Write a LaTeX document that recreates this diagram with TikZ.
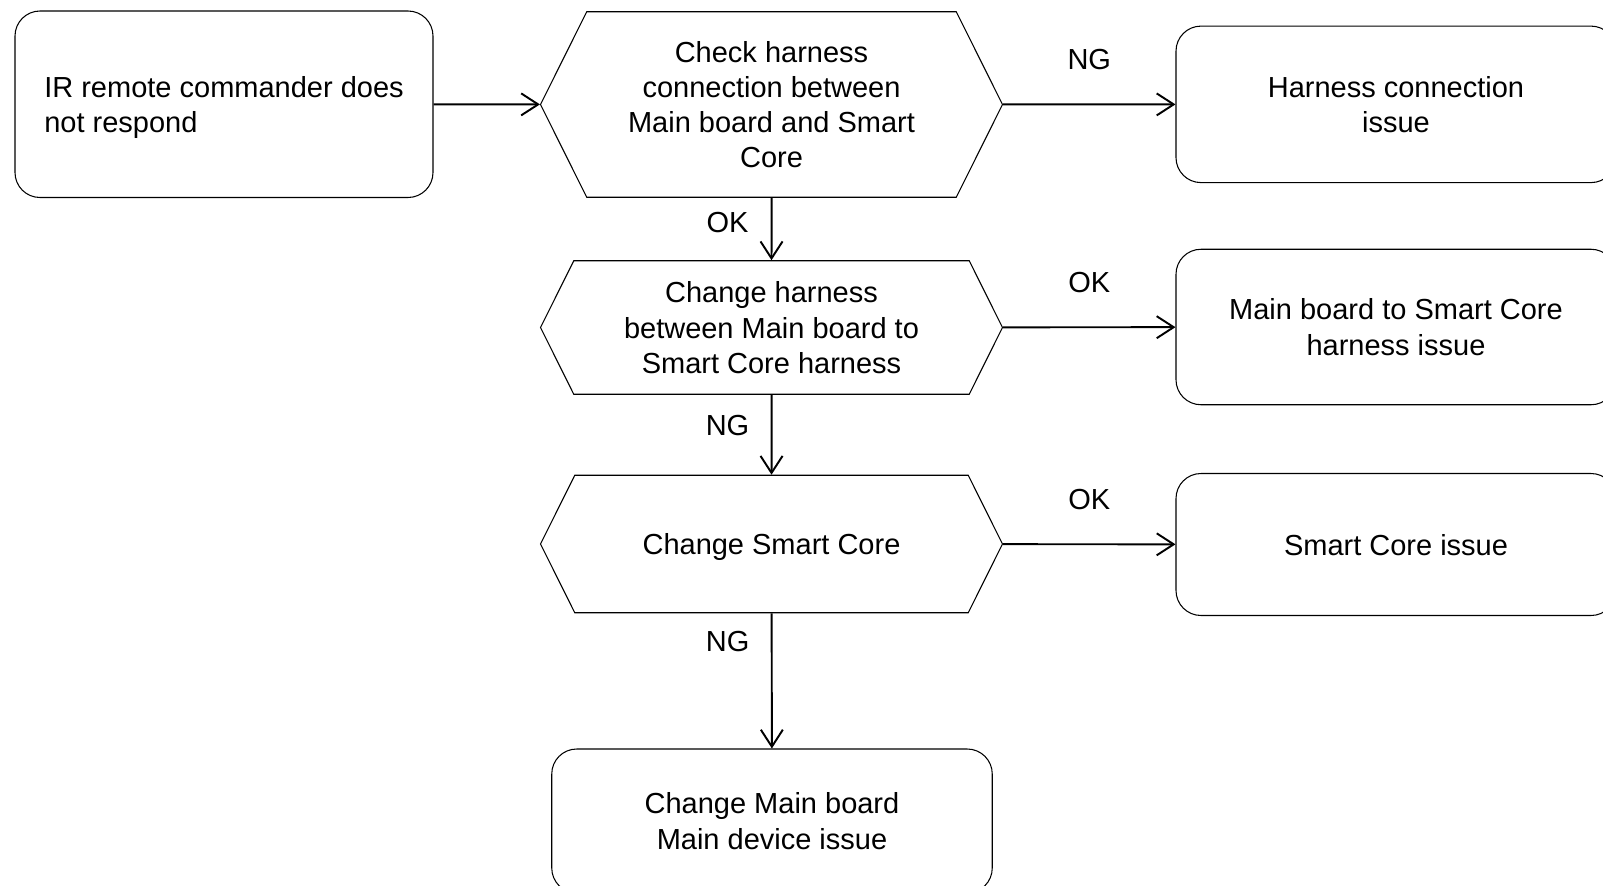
\documentclass[tikz,border=0pt]{standalone}
\usepackage{fontspec}
\setmainfont{Liberation Sans}
\usetikzlibrary{shapes.symbols, arrows.meta, positioning, backgrounds}

\begin{document}
\begin{tikzpicture}[
    every node/.style={font=\fontsize{16.5}{20}\selectfont, text=black},
    wf/.style={
        draw, rounded corners=0.5cm, line width=0.6pt,
        minimum width=8.8cm, text depth=0pt,
        align=center, inner sep=0.15cm
    },
    check/.style={
        draw, signal, signal to=east and west, signal pointer angle=127,
        minimum width=9.24cm, line width=0.6pt, text depth=0pt,
        align=center, inner sep=0.15cm
    },
    arrow/.style={-{Straight Barb[length=3.4mm, width=4.4mm]}, line width=1.1pt},
    lbl/.style={font=\fontsize{16.5}{20}\selectfont}
]

% ── CANVAS ─────────────────────────────────────────────────────
\useasboundingbox (0,0) rectangle (32.06,-17.72);
\begin{scope}[on background layer]
    \fill[white] (0,0) rectangle (32.06,-17.72);
\end{scope}

% === LEFT COLUMN ===
\node[wf, align=left, minimum width=8.36cm, minimum height=3.73cm]
    (symptom) at (4.48,-2.085)
    {IR remote commander does\\not respond};

% === CENTER COLUMN ===
\node[check, minimum height=3.71cm]
    (chkharness) at (15.43,-2.09)
    {Check harness\\connection between\\Main board and Smart\\Core};

\node[check, minimum height=2.67cm]
    (chgharness) at (15.43,-6.55)
    {Change harness\\between Main board to\\Smart Core harness};

\node[check, minimum height=2.75cm]
    (chgcore) at (15.43,-10.88)
    {Change Smart Core};

\node[wf, minimum width=8.81cm, minimum height=2.88cm]
    (mainboard) at (15.44,-16.42)
    {Change Main board\\Main device issue};

% === RIGHT COLUMN ===
\node[wf, minimum height=3.13cm]
    (connissue) at (27.92,-2.087)
    {Harness connection\\issue};

\node[wf, minimum height=3.11cm]
    (harnissue) at (27.92,-6.54)
    {Main board to Smart Core\\harness issue};

\node[wf, minimum height=2.84cm]
    (coreissue) at (27.92,-10.89)
    {Smart Core issue};

% ── ARROWS ─────────────────────────────────────────────────────

% Symptom → first check
\draw[arrow] (symptom) -- (chkharness);

% Harness connection check
\draw[arrow] (chkharness) -- node[lbl, yshift=0.9cm]{NG} (connissue);
\draw[arrow] (chkharness) -- node[lbl, pos=0.39, xshift=-0.88cm]{OK} (chgharness);

% Harness swap
\draw[arrow] (chgharness) -- node[lbl, yshift=0.9cm]{OK} (harnissue);
\draw[arrow] (chgharness) -- node[lbl, pos=0.38, xshift=-0.88cm]{NG} (chgcore);

% Smart Core swap
\draw[arrow] (chgcore) -- node[lbl, yshift=0.9cm]{OK} (coreissue);
\draw[arrow] (chgcore) -- node[lbl, pos=0.21, xshift=-0.88cm]{NG} (mainboard);

\end{tikzpicture}
\end{document}
